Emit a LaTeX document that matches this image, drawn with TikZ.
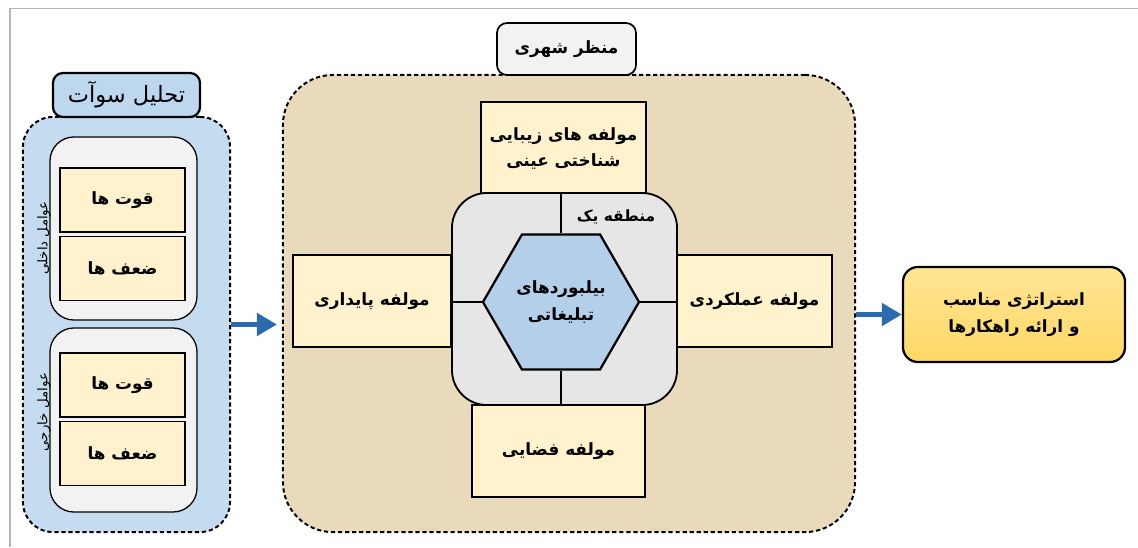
\documentclass[tikz,border=0pt]{standalone}
\usepackage{fontspec}
\newfontfamily\farsi[Script=Arabic]{DejaVu Sans}
\TeXXeTstate=1
\newcommand{\fa}[1]{{\farsi\beginR #1\endR}}
\usetikzlibrary{arrows.meta,shapes.geometric}

\definecolor{framegray}{HTML}{B4B4B4}
\definecolor{swotblue}{HTML}{C5DCF0}
\definecolor{titleblue}{HTML}{BDD7EE}
\definecolor{boxyellow}{HTML}{FFF2CC}
\definecolor{grpgray}{HTML}{F2F2F2}
\definecolor{sand}{HTML}{E9DABC}
\definecolor{granite}{HTML}{E6E6E6}
\definecolor{hexblue}{HTML}{B4CFEA}
\definecolor{gold}{HTML}{FFD966}
\definecolor{flowblue}{HTML}{2A6AAE}

\begin{document}
\begin{tikzpicture}[x=0.025cm,y=-0.025cm,
  region/.style={draw=black,dash pattern=on 3pt off 2pt,line width=1.4pt,inner sep=0pt},
  title/.style={draw=black,line width=1.6pt,rounded corners=0.25cm,inner sep=0pt,align=center},
  grp/.style={draw=black,line width=0.9pt,fill=grpgray,rounded corners=0.6cm,minimum width=3.675cm,inner sep=0pt},
  box/.style={draw=black,line width=0.9pt,fill=boxyellow,inner sep=0pt,align=center,font=\bfseries\fontsize{12}{19}\selectfont},
  side/.style={font=\fontsize{9.5}{11}\selectfont,inner sep=0pt},
  flow/.style={flowblue,line width=3.5pt,-{Triangle[length=0.5cm,width=0.55cm]}}]
\useasboundingbox (0,0) rectangle (1138,547);
\draw[framegray,line width=1pt] (1138,8.5) -- (10,8.5) -- (10,547); % --- page frame

% --- SWOT side
\node[region,fill=swotblue,rounded corners=0.75cm,minimum width=5.175cm,minimum height=10.375cm] (swot) at (126.5,324.5) {};
\node[title,fill=titleblue,minimum width=3.675cm,minimum height=1.1cm,font=\fontsize{16}{18}\selectfont] (swotTitle) at (126.5,95) {\fa{تحلیل سوآت}};
\node[grp,minimum height=4.575cm] (inGrp) at (123.5,228.5) {};
\node[grp,minimum height=4.6cm] (exGrp) at (123.5,420) {};
\node[box,minimum width=3.125cm,minimum height=1.6cm] (inStr) at (122.5,200) {\fa{قوت ها}};
\node[box,minimum width=3.125cm,minimum height=1.6cm] (inWeak) at (122.5,268.5) {\fa{ضعف ها}};
\node[box,minimum width=3.125cm,minimum height=1.6cm] (exStr) at (122.5,385) {\fa{قوت ها}};
\node[box,minimum width=3.125cm,minimum height=1.6cm] (exWeak) at (122.5,453.5) {\fa{ضعف ها}};
\node[side,rotate=90] (inLbl) at (44,238) {\fa{عوامل داخلی}};
\node[side,rotate=90] (exLbl) at (44,412) {\fa{عوامل خارجی}};

% --- urban landscape
\node[region,fill=sand,rounded corners=1.25cm,minimum width=14.3cm,minimum height=11.425cm] (manzar) at (569,303.5) {};
\node[title,fill=grpgray,line width=1.2pt,minimum width=3.475cm,minimum height=1.3cm,font=\bfseries\fontsize{12}{14}\selectfont] (manzarTitle) at (566.5,49) {\fa{منظر شهری}};
\node[box,minimum width=4.125cm,minimum height=2.325cm] (topBox) at (563.5,148.5) {\fa{مولفه های زیبایی}\\\fa{شناختی عینی}};
\node[box,minimum width=3.95cm,minimum height=2.3cm] (leftBox) at (372,301) {\fa{مولفه پایداری}};
\node[box,minimum width=3.875cm,minimum height=2.3cm] (rightBox) at (754.5,301) {\fa{مولفه عملکردی}};
\node[box,minimum width=4.325cm,minimum height=2.3cm] (bottomBox) at (558.5,451) {\fa{مولفه فضایی}};

% --- zone one and billboards
\node[draw=black,line width=1.3pt,fill=granite,rounded corners=0.875cm,minimum width=5.625cm,minimum height=5.3cm,inner sep=0pt] (zone) at (564.5,299) {};
\node[draw=black,line width=1.6pt,fill=hexblue,regular polygon,regular polygon sides=6,minimum size=3.9cm,inner sep=0pt,align=center,font=\bfseries\fontsize{12}{19}\selectfont] (hex) at (561,302) {\fa{بیلبوردهای}\\\fa{تبلیغاتی}};
\draw[line width=0.9pt] (hex.north |- zone.north) -- (hex.north);
\draw[line width=0.9pt] (hex.south |- zone.south) -- (hex.south);
\draw[line width=0.9pt] (hex.west -| zone.west) -- (hex.west);
\draw[line width=0.9pt] (hex.east -| zone.east) -- (hex.east);
\node[font=\bfseries\fontsize{11}{13}\selectfont,inner sep=0pt] (zoneLbl) at (616,217) {\fa{منطقه یک}};

% --- strategy
\node[draw=black,line width=1.6pt,top color=gold!70!white,bottom color=gold,rounded corners=0.375cm,minimum width=5.55cm,minimum height=2.375cm,inner sep=0pt,align=center,font=\bfseries\fontsize{12}{19}\selectfont] (strat) at (1014,314.5) {\fa{استراتژی مناسب}\\\fa{و ارائه راهکارها}};

% --- flow arrows
\draw[flow,shorten >=0.125cm] (swot.east) -- (swot.east -| manzar.west);
\draw[flow] (strat.west -| manzar.east) -- (strat.west);
\end{tikzpicture}
\end{document}
